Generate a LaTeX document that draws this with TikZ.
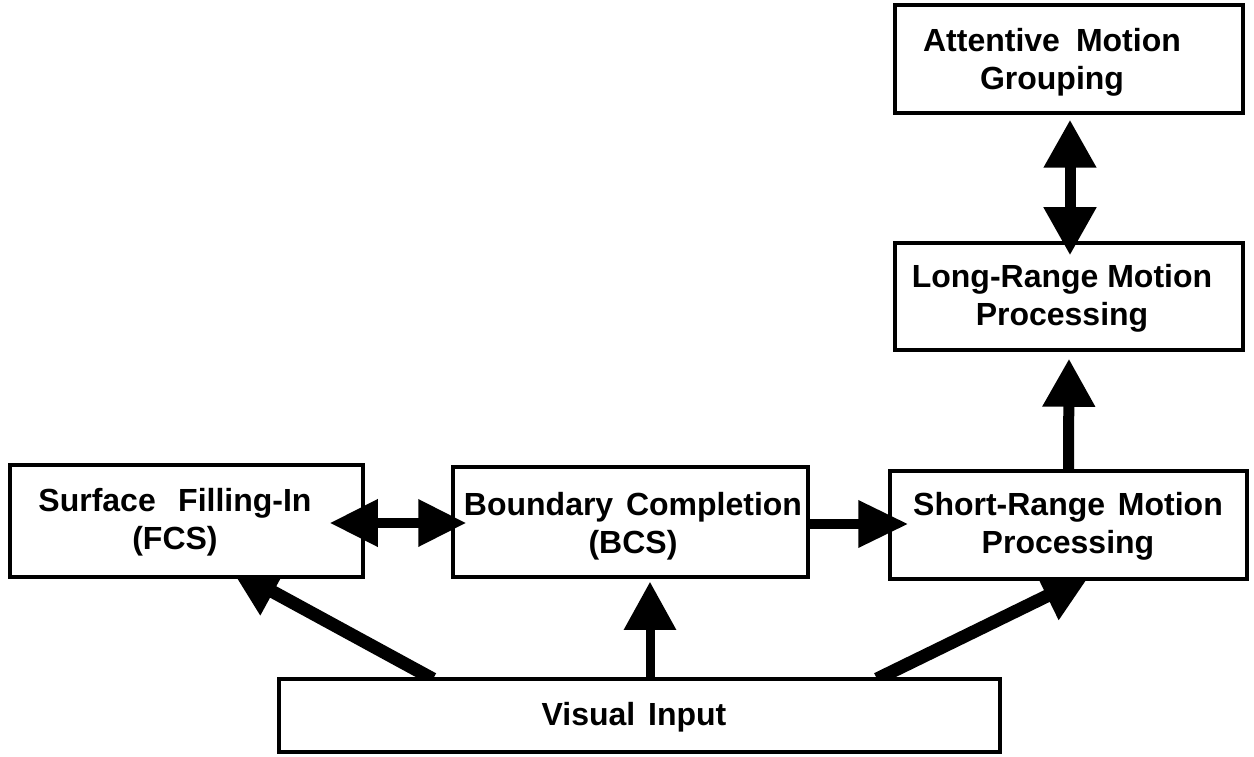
\documentclass[tikz,border=0pt]{standalone}
\usepackage{fontspec}
\setmainfont{Liberation Sans}
\usetikzlibrary{arrows.meta,calc}
\begin{document}
\begin{tikzpicture}[x=1pt,y=-1pt,
  stage/.style={draw, fill=white, line width=3.5pt, inner sep=0pt},
  lbl/.style={align=center, inner sep=0pt, font=\bfseries\fontsize{32}{38}\selectfont},
  flow/.style={line width=11pt, -{Triangle[length=48pt,width=50pt]}},
  flowboth/.style={line width=11pt, {Triangle[length=48pt,width=50pt]}-{Triangle[length=48pt,width=50pt]}},
  flowh/.style={line width=10pt, -{Triangle[length=50pt,width=45pt]}},
  flowhboth/.style={line width=10pt, {Triangle[length=48pt,width=45pt]}-{Triangle[length=48pt,width=45pt]}},
]
\useasboundingbox (0,0) rectangle (1254,757);

% anchor points of the two slanted inputs (their heads tuck under the boxes)
\coordinate (fcsin) at (231,569);
\coordinate (srin)  at (1090,575);
\coordinate (vil)   at (433,679);
\coordinate (vir)   at (877,679);
\draw[flow, line width=13pt] (vil) -- (fcsin);
\draw[flow, line width=13pt] (vir) -- (srin);

% processing stages
\node[stage, minimum width=348pt, minimum height=108pt] (amg) at (1069,59) {};
\node[stage, minimum width=348pt, minimum height=107pt] (lr)  at (1069,296.5) {};
\node[stage, minimum width=357pt, minimum height=108pt] (sr)  at (1068.5,525) {};
\node[stage, minimum width=355pt, minimum height=110pt] (bcs) at (630.5,522) {};
\node[stage, minimum width=353pt, minimum height=112pt] (fcs) at (186.5,521) {};
\node[stage, minimum width=721pt, minimum height=73pt]  (vi)  at (639.5,715.5) {};

% stage names
\node[lbl] (amgtext) at (1052,62)  {Attentive\hspace{0.5em}Motion\\Grouping};
\node[lbl] (lrtext)  at (1062,298) {Long-Range Motion\\Processing};
\node[lbl] (srtext)  at (1068,526) {Short-Range\hspace{0.4em}Motion\\Processing};
\node[lbl] (bcstext) at (633,526)  {Boundary\hspace{0.4em}Completion\\(BCS)};
\node[lbl] (fcstext) at (175,522)  {Surface\hspace{0.7em}Filling-In\\(FCS)};
\node[lbl] (vitext)  at (634,717)  {Visual\hspace{0.4em}Input};

% connections
\draw[flowboth] ($(amg.south)+(1,5)$) -- ($(lr.north)+(1,14)$);
\draw[flow] (sr.north) -- ($(lr.south)+(0,7)$);
\draw[flowhboth] ($(fcs.east)+(-35,2)$) -- ($(bcs.west)+(15,1)$);
\draw[flowh] ($(bcs.east)+(0,2)$) -- ($(sr.west)+(20,-1)$);
\draw[flow, line width=9pt] ($(vi.north)+(10.5,0)$) -- ($(bcs.south)+(19.5,3)$);
\end{tikzpicture}
\end{document}
